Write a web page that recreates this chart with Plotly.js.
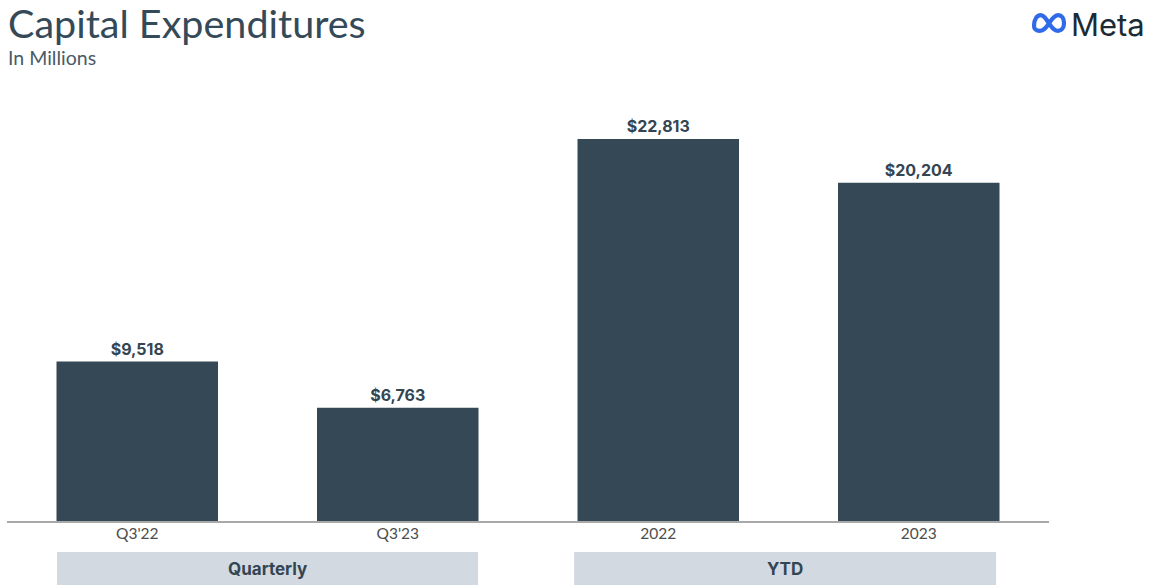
<!DOCTYPE html>
<html><head><meta charset="utf-8">
<script src="https://cdn.plot.ly/plotly-3.0.1.min.js"></script>
<style>html,body{margin:0;padding:0;background:#fff}#chart{width:1154px;height:588px}</style>
</head><body><div id="chart"></div>
<script>
const categories = ["Q3'22", "Q3'23", "2022", "2023"];
const values = [9518, 6763, 22813, 20204];
const groupLabels = ["Quarterly", "YTD"];
const groupStart = [0, 2];
const groupEnd = [1, 3];

const barColor = '#354855';
const textColor = '#344552';
const boxPad = [[-0.308, 0.308], [-0.323, 0.297]];

const logoSvg = '<svg xmlns="http://www.w3.org/2000/svg" width="60" height="36" viewBox="0 0 60 36">' +
  '<path d="M5 23 C5 11 10.5 5 16 5 C21.5 5 25 11 30 18.5 C35 26 38.5 31 45 31 C51 31 55 26 55 18.5 C55 10 51 5 45.5 5 C40 5 35 11 30 18.5 C25 26 21.5 31 14.5 31 C8.5 31 5 27.5 5 23 Z" fill="none" stroke="#2f6ae8" stroke-width="7" stroke-linejoin="round"/></svg>';

const PW = 1042, PH = 420, ML = 7, MT = 101;
const px = x => (x - ML) / PW;
const py = y => 1 + (MT - y) / PH;

const shapes = [];
const annotations = [];
groupLabels.forEach((g, i) => {
  shapes.push({type:'rect', xref:'x', yref:'paper', x0: groupStart[i]+boxPad[i][0], x1: groupEnd[i]+boxPad[i][1],
    y0: py(585), y1: py(552), fillcolor:'#d2d9e0', line:{width:0}, layer:'below'});
  annotations.push({xref:'x', yref:'paper', x:(groupStart[i]+groupEnd[i]+boxPad[i][0]+boxPad[i][1])/2, y:py(569), text:'<b>'+g+'</b>',
    showarrow:false, font:{family:'Inter, Roboto, sans-serif', size:17, color:textColor}, yanchor:'middle'});
});
annotations.push({xref:'paper', yref:'paper', x:px(6), y:py(22), xanchor:'left', yanchor:'middle',
  text:'Capital Expenditures', showarrow:false, font:{family:'Lato, sans-serif', size:39.5, color:'#354a59'}});
annotations.push({xref:'paper', yref:'paper', x:px(6), y:py(58), xanchor:'left', yanchor:'middle',
  text:'In Millions', showarrow:false, font:{family:'Lato, sans-serif', size:19.5, color:'#4a5a66'}});
annotations.push({xref:'paper', yref:'paper', x:px(1147), y:py(25), xanchor:'right', yanchor:'middle',
  text:'Meta', showarrow:false, font:{family:'Inter, sans-serif', size:31, color:'#1c2b33'}});

const trace = {
  type:'bar', x: categories, y: values,
  marker:{color: barColor},
  text: values.map(v => '$' + v.toLocaleString('en-US')),
  textposition:'outside', cliponaxis:false,
  textfont:{family:'Inter, Roboto, sans-serif', size:16, color:textColor, weight:'bold'},
  hoverinfo:'none'
};

const layout = {
  width:1154, height:588,
  margin:{l:ML, r:1154-ML-PW, t:MT, b:588-MT-PH},
  paper_bgcolor:'#fff', plot_bgcolor:'#fff',
  bargap:0.38,
  showlegend:false,
  xaxis:{type:'category', range:[-0.5,3.5], showline:true, linecolor:'#a8a8a8', linewidth:1.5,
    ticks:'', ticklabelstandoff:-2, tickfont:{family:'Lato, sans-serif', size:15.5, color:'#4d4d4d'}, fixedrange:true},
  yaxis:{range:[0,25080], visible:false, showgrid:false, zeroline:false, fixedrange:true},
  shapes: shapes,
  annotations: annotations,
  images:[{source:'data:image/svg+xml;utf8,' + encodeURIComponent(logoSvg), xref:'paper', yref:'paper',
    x:px(1031), y:py(23), xanchor:'left', yanchor:'middle', sizex:36/PW, sizey:22/PH, sizing:'contain'}]
};
Plotly.newPlot('chart', [trace], layout, {displayModeBar:false, staticPlot:true});
</script></body></html>
